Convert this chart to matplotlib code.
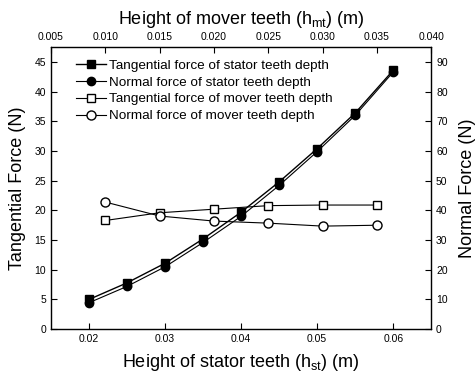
import numpy as np
import matplotlib
matplotlib.use('Agg')
import matplotlib.pyplot as plt

plt.rcParams['font.family'] = ['Liberation Sans', 'DejaVu Sans']
plt.rcParams['mathtext.default'] = 'regular'

# stator teeth sweep (bottom axis)
h_st = [0.02, 0.025, 0.03, 0.035, 0.04, 0.045, 0.05, 0.055, 0.06]
tang_st = [5.0, 7.8, 11.1, 15.2, 19.7, 24.8, 30.4, 36.4, 43.6]
norm_st = [8.9, 14.4, 21.0, 29.2, 38.0, 48.4, 59.8, 72.0, 86.6]

# mover teeth sweep (top axis)
h_mt = [0.010, 0.015, 0.020, 0.025, 0.030, 0.035]
tang_mt = [18.3, 19.6, 20.2, 20.8, 20.9, 20.9]
norm_mt = [42.8, 38.1, 36.4, 35.7, 34.7, 35.0]

fig = plt.figure(figsize=(4.77, 3.77), dpi=100)
ax = fig.add_axes([0.107, 0.127, 0.797, 0.748])
ax_r = ax.twinx()
ax_t = ax.twiny()
ax_tr = ax_t.twinx()

l1, = ax.plot(h_st, tang_st, color='black', lw=1, marker='s', ms=6,
              mfc='black', label='Tangential force of stator teeth depth')
l2, = ax_r.plot(h_st, norm_st, color='black', lw=0.8, marker='o', ms=6,
                mfc='black', label='Normal force of stator teeth depth')
l3, = ax_t.plot(h_mt, tang_mt, color='black', lw=0.8, marker='s', ms=5.5,
                mfc='white', label='Tangential force of mover teeth depth')
l4, = ax_tr.plot(h_mt, norm_mt, color='black', lw=0.8, marker='o', ms=6.5,
                 mfc='white', label='Normal force of mover teeth depth')

ax.set_xlim(0.015, 0.065)
ax.set_ylim(0, 47.5)
ax_r.set_ylim(0, 95)
ax_t.set_xlim(0.005, 0.040)
ax_tr.set_ylim(0, 95)
ax_tr.set_yticks([])

ax.set_xticks([0.02, 0.03, 0.04, 0.05, 0.06])
ax.set_xticklabels(['0.02', '0.03', '0.04', '0.05', '0.06'])
ax.set_yticks(np.arange(0, 46, 5))
ax_r.set_yticks(np.arange(0, 91, 10))
ax_t.set_xticks(np.arange(0.005, 0.0401, 0.005))
ax_t.set_xticklabels(['%.3f' % v for v in np.arange(0.005, 0.0401, 0.005)])

for a in (ax, ax_r, ax_t):
    a.tick_params(direction='in', labelsize=7.5, length=4)

ax.set_xlabel('Height of stator teeth (h$_{st}$) (m)', fontsize=13, labelpad=6)
ax.set_ylabel('Tangential Force (N)', fontsize=13, labelpad=6)
ax_r.set_ylabel('Normal Force (N)', fontsize=13, labelpad=8)
ax_t.set_xlabel('Height of mover teeth (h$_{mt}$) (m)', fontsize=13, labelpad=6)

ax_tr.legend(handles=[l1, l2, l3, l4], loc='upper left', frameon=False,
             fontsize=9.7, handlelength=2.2, handletextpad=0.25,
             labelspacing=0.33, borderaxespad=0.5, bbox_to_anchor=(0.035, 1.0))

fig.savefig('out.png', dpi=100)
